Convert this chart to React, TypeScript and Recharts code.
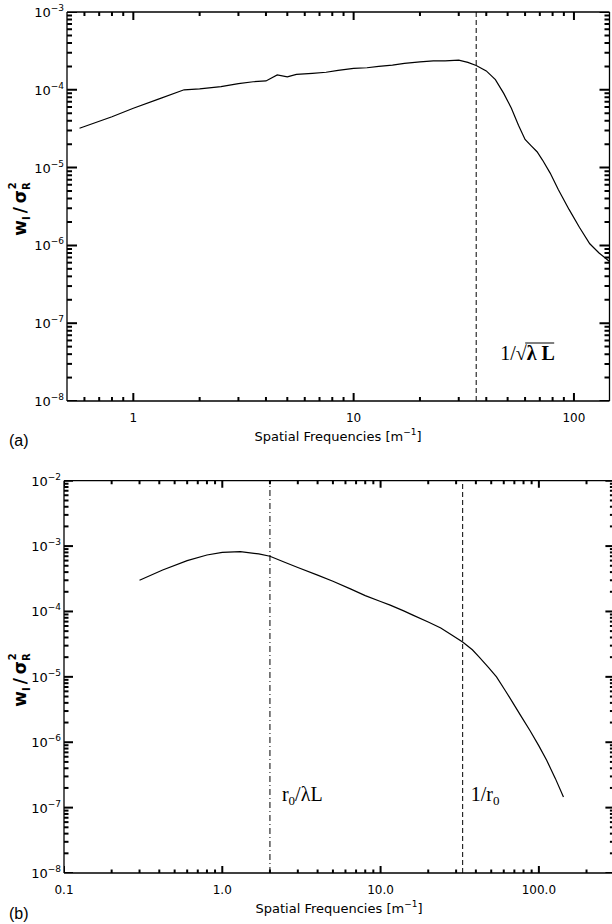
import React from 'react';
import { ComposedChart, Line, Scatter, XAxis, YAxis, ReferenceLine } from 'recharts';

// ---------- Data (a) ----------
const topFreq = [0.57, 0.8, 1.0, 1.3, 1.7, 2.0, 2.5, 3.0, 3.5, 4.0, 4.5, 5.0, 5.5, 6.5, 7.5, 8.5, 10, 11.5, 13, 15, 17, 20, 23, 26, 30, 33, 36, 40, 44, 48, 52, 56, 60, 64, 68, 72, 78, 85, 95, 106, 118, 130, 145];
const topValue = [3.2e-5, 4.5e-5, 5.8e-5, 7.6e-5, 1.0e-4, 1.03e-4, 1.1e-4, 1.2e-4, 1.27e-4, 1.3e-4, 1.55e-4, 1.47e-4, 1.58e-4, 1.63e-4, 1.68e-4, 1.78e-4, 1.88e-4, 1.92e-4, 2.0e-4, 2.08e-4, 2.18e-4, 2.28e-4, 2.35e-4, 2.35e-4, 2.4e-4, 2.25e-4, 2.05e-4, 1.75e-4, 1.35e-4, 9.0e-5, 5.8e-5, 3.5e-5, 2.3e-5, 1.9e-5, 1.6e-5, 1.25e-5, 8.5e-6, 5.2e-6, 2.9e-6, 1.7e-6, 1.05e-6, 8.0e-7, 6.2e-7];
const topXMajor = [1, 10, 100];
const topXLabels = ['1', '10', '100'];
const topXMinorExtra = [0.6, 0.7, 0.8, 0.9];
const topYExp = [-8, -7, -6, -5, -4, -3];
const topCutoff = 36;

// ---------- Data (b) ----------
const bottomFreq = [0.3, 0.42, 0.6, 0.8, 1.0, 1.3, 1.7, 2.0, 2.5, 3.0, 4.0, 5.0, 6.5, 8.0, 10, 11.5, 14, 16, 20, 24, 28, 33, 38, 42, 48, 54, 61, 69, 78, 88, 100, 112, 127, 143];
const bottomValue = [3.0e-4, 4.3e-4, 6.0e-4, 7.3e-4, 8.0e-4, 8.2e-4, 7.6e-4, 7.0e-4, 5.6e-4, 4.7e-4, 3.6e-4, 2.9e-4, 2.2e-4, 1.75e-4, 1.42e-4, 1.25e-4, 1.02e-4, 8.8e-5, 6.9e-5, 5.6e-5, 4.4e-5, 3.4e-5, 2.6e-5, 2.0e-5, 1.4e-5, 1.0e-5, 6.3e-6, 3.9e-6, 2.4e-6, 1.5e-6, 8.8e-7, 5.3e-7, 2.8e-7, 1.45e-7];
const bottomXMajor = [0.1, 1, 10, 100];
const bottomXLabels = ['0.1', '1.0', '10.0', '100.0'];
const bottomXMinorExtra = [200];
const bottomYExp = [-8, -7, -6, -5, -4, -3, -2];
const bottomLine1 = 2;
const bottomLine2 = 33;

const topData = topFreq.map((f, i) => ({ f, w: topValue[i] }));
const bottomData = bottomFreq.map((f, i) => ({ f, w: bottomValue[i] }));

const SANS = 'DejaVu Sans, Verdana, sans-serif';
const SERIF = 'Liberation Serif, Times New Roman, serif';

function minorsBetween(majors: number[]) {
  const out: number[] = [];
  for (let i = 0; i < majors.length - 1; i++) {
    for (let k = 2; k <= 9; k++) out.push(majors[i] * k);
  }
  return out;
}
function isMajor(v: number) {
  const l = Math.log10(v);
  return Math.abs(l - Math.round(l)) < 1e-6;
}

const topXTicks = [...topXMinorExtra, ...topXMajor, ...minorsBetween(topXMajor)].sort((a, b) => a - b);
const bottomXTicks = [...bottomXMajor, ...minorsBetween(bottomXMajor), ...bottomXMinorExtra].sort((a, b) => a - b);
const expToVal = (e: number) => Math.pow(10, e);
const topYMajor = topYExp.map(expToVal);
const bottomYMajor = bottomYExp.map(expToVal);
const topYTicks = [...topYMajor, ...minorsBetween(topYMajor)].sort((a, b) => a - b);
const bottomYTicks = [...bottomYMajor, ...minorsBetween(bottomYMajor)].sort((a, b) => a - b);

function frameMarks(xTicks: number[], yTicks: number[], xd: number[], yd: number[]) {
  return {
    bottom: xTicks.map((t) => ({ f: t, w: yd[0], v: t })),
    top: xTicks.map((t) => ({ f: t, w: yd[1], v: t })),
    left: yTicks.map((t) => ({ f: xd[0], w: t, v: t })),
    right: yTicks.map((t) => ({ f: xd[1], w: t, v: t })),
  };
}
const topXDomain = [0.5, 145];
const topYDomain = [1e-8, 1e-3];
const bottomXDomain = [0.1, 300];
const bottomYDomain = [1e-8, 1e-2];
const topMarks = frameMarks(topXTicks, topYTicks, topXDomain, topYDomain);
const bottomMarks = frameMarks(bottomXTicks, bottomYTicks, bottomXDomain, bottomYDomain);

function markShape(side: 'bottom' | 'top' | 'left' | 'right', majLen: number, minLen: number) {
  return (props: any) => {
    const { cx, cy, payload } = props;
    if (cx == null || cy == null) return <g />;
    const len = isMajor(payload.v) ? majLen : minLen;
    let d = '';
    if (side === 'bottom') d = `M${cx},${cy}L${cx},${cy - len}`;
    if (side === 'top') d = `M${cx},${cy}L${cx},${cy + len}`;
    if (side === 'left') d = `M${cx},${cy}L${cx + len},${cy}`;
    if (side === 'right') d = `M${cx},${cy}L${cx - len},${cy}`;
    return <path d={d} stroke="#000" strokeWidth={2} fill="none" />;
  };
}

function makeXLabel(majors: number[], labels: string[]) {
  return (props: any) => {
    const { x, y, payload } = props;
    const idx = majors.findIndex((m) => Math.abs(m - payload.value) / m < 1e-6);
    if (idx < 0) return <g />;
    return (
      <text x={x} y={y + 21} textAnchor="middle" fontFamily={SANS} fontSize={12} fill="#000">
        {labels[idx]}
      </text>
    );
  };
}

const yLabel = (props: any) => {
  const { x, y, payload } = props;
  const e = Math.round(Math.log10(payload.value));
  return (
    <text x={x - 3} y={y + 5} textAnchor="end" fontFamily={SANS} fontSize={13} fill="#000">
      10<tspan fontSize={9} dy={-6}>{'\u2212' + Math.abs(e)}</tspan>
    </text>
  );
};

const TopNote = (props: any) => {
  const vb = props.viewBox || {};
  const x0 = vb.x + 24;
  const y0 = vb.y + 348;
  return (
    <g>
      <text x={x0} y={y0} fontFamily={SERIF} fontSize={20} fill="#000">
        1/{'\u221A'}<tspan fontWeight="bold">{'\u03BB L'}</tspan>
      </text>
      <line x1={x0 + 25} y1={y0 - 17} x2={x0 + 54} y2={y0 - 17} stroke="#000" strokeWidth={1} />
    </g>
  );
};

const NoteR0 = (props: any) => {
  const vb = props.viewBox || {};
  const x0 = vb.x + 12;
  const y0 = vb.y + 320;
  return (
    <text x={x0} y={y0} fontFamily={SERIF} fontSize={20} fill="#000">
      r<tspan fontSize={13} dy={4}>0</tspan>
      <tspan dy={-4}>/{'\u03BB'}L</tspan>
    </text>
  );
};

const NoteInvR0 = (props: any) => {
  const vb = props.viewBox || {};
  const x0 = vb.x + 8;
  const y0 = vb.y + 320;
  return (
    <text x={x0} y={y0} fontFamily={SERIF} fontSize={20} fill="#000">
      1/r<tspan fontSize={13} dy={4}>0</tspan>
    </text>
  );
};

const YTitle = ({ cx, cy }: { cx: number; cy: number }) => (
  <text transform={`translate(${cx},${cy}) rotate(-90)`} textAnchor="middle" fontFamily={SANS} fontWeight="bold" fontSize={17} fill="#000">
    w<tspan fontSize={10} dy={4}>I</tspan>
    <tspan dy={-4} dx={3}>/</tspan>
    <tspan dx={4}>{'\u03C3'}</tspan>
    <tspan fontSize={10} dy={4}>R</tspan>
    <tspan fontSize={10} dx={-7} dy={-14}>2</tspan>
  </text>
);

const XTitle = ({ cx, y }: { cx: number; y: number }) => (
  <text x={cx} y={y} textAnchor="middle" fontFamily={SANS} fontSize={13} fill="#000">
    Spatial Frequencies [m<tspan fontSize={9} dy={-6}>{'\u22121'}</tspan>
    <tspan dy={6}>]</tspan>
  </text>
);

const axisStyle = { stroke: '#000', strokeWidth: 1.3 };

function Panel(p: any) {
  return (
    <ComposedChart width={p.width} height={p.height} data={p.data} margin={p.margin}>
      <XAxis xAxisId="b" dataKey="f" type="number" scale="log" domain={p.xDomain} allowDataOverflow ticks={p.xTicks} interval={0}
        height={1} tickSize={0} tickMargin={0} axisLine={axisStyle} tickLine={false} tick={makeXLabel(p.xMajor, p.xLabels)} />
      <XAxis xAxisId="t" orientation="top" dataKey="f" type="number" scale="log" domain={p.xDomain} allowDataOverflow ticks={p.xTicks} interval={0}
        height={1} tickSize={0} tickMargin={0} axisLine={axisStyle} tickLine={false} tick={false} />
      <YAxis yAxisId="l" type="number" scale="log" domain={p.yDomain} allowDataOverflow ticks={p.yMajor} interval={0}
        width={1} tickSize={0} tickMargin={0} axisLine={axisStyle} tickLine={false} tick={yLabel} />
      <YAxis yAxisId="r" orientation="right" type="number" scale="log" domain={p.yDomain} allowDataOverflow ticks={p.yMajor} interval={0}
        width={1} tickSize={0} tickMargin={0} axisLine={axisStyle} tickLine={false} tick={false} />
      {p.children}
      <Line xAxisId="b" yAxisId="l" dataKey="w" type="linear" stroke="#000" strokeWidth={1.2} dot={false} isAnimationActive={false} legendType="none" />
      <Line xAxisId="t" yAxisId="r" dataKey="w" type="linear" stroke="none" dot={false} isAnimationActive={false} legendType="none" />
      <Scatter xAxisId="b" yAxisId="l" data={p.marks.bottom} dataKey="w" isAnimationActive={false} legendType="none" shape={markShape('bottom', p.xMaj, p.xMin)} />
      <Scatter xAxisId="t" yAxisId="r" data={p.marks.top} dataKey="w" isAnimationActive={false} legendType="none" shape={markShape('top', p.xMaj, p.xMin)} />
      <Scatter xAxisId="b" yAxisId="l" data={p.marks.left} dataKey="w" isAnimationActive={false} legendType="none" shape={markShape('left', p.yMaj, p.yMin)} />
      <Scatter xAxisId="t" yAxisId="r" data={p.marks.right} dataKey="w" isAnimationActive={false} legendType="none" shape={markShape('right', p.yMaj, p.yMin)} />
    </ComposedChart>
  );
}

export default function App() {
  return (
    <div style={{ position: 'absolute', left: 0, top: 0, width: 612, height: 924, background: '#fff', overflow: 'hidden' }}>
      <div style={{ position: 'absolute', left: 0, top: 0 }}>
        <Panel width={612} height={460} margin={{ top: 11, right: 1.5, bottom: 58, left: 66 }} data={topData}
          xDomain={topXDomain} yDomain={topYDomain} xTicks={topXTicks} yTicks={topYTicks} yMajor={topYMajor}
          xMajor={topXMajor} xLabels={topXLabels} marks={topMarks} xMaj={8} xMin={4} yMaj={10} yMin={5}>
          <ReferenceLine xAxisId="b" yAxisId="l" x={topCutoff} stroke="#000" strokeWidth={1} strokeDasharray="5 3" label={(q: any) => <TopNote {...q} />} />
        </Panel>
      </div>
      <div style={{ position: 'absolute', left: 0, top: 460 }}>
        <Panel width={616} height={464} margin={{ top: 19.7, right: 0.6, bottom: 50, left: 63 }} data={bottomData}
          xDomain={bottomXDomain} yDomain={bottomYDomain} xTicks={bottomXTicks} yTicks={bottomYTicks} yMajor={bottomYMajor}
          xMajor={bottomXMajor} xLabels={bottomXLabels} marks={bottomMarks} xMaj={7} xMin={3.5} yMaj={9} yMin={4.5}>
          <ReferenceLine xAxisId="b" yAxisId="l" x={bottomLine1} stroke="#000" strokeWidth={1} strokeDasharray="6 3 1 3" label={(q: any) => <NoteR0 {...q} />} />
          <ReferenceLine xAxisId="b" yAxisId="l" x={bottomLine2} stroke="#000" strokeWidth={1} strokeDasharray="5 3" label={(q: any) => <NoteInvR0 {...q} />} />
        </Panel>
      </div>
      <svg width={612} height={924} style={{ position: 'absolute', left: 0, top: 0, pointerEvents: 'none' }}>
        <YTitle cx={26} cy={209} />
        <YTitle cx={26} cy={680} />
        <XTitle cx={338} y={441} />
        <XTitle cx={339} y={913} />
        <text x={9} y={446} fontFamily="Liberation Sans, Arial, sans-serif" fontSize={16} fill="#000">(a)</text>
        <text x={9} y={919} fontFamily="Liberation Sans, Arial, sans-serif" fontSize={16} fill="#000">(b)</text>
      </svg>
    </div>
  );
}
